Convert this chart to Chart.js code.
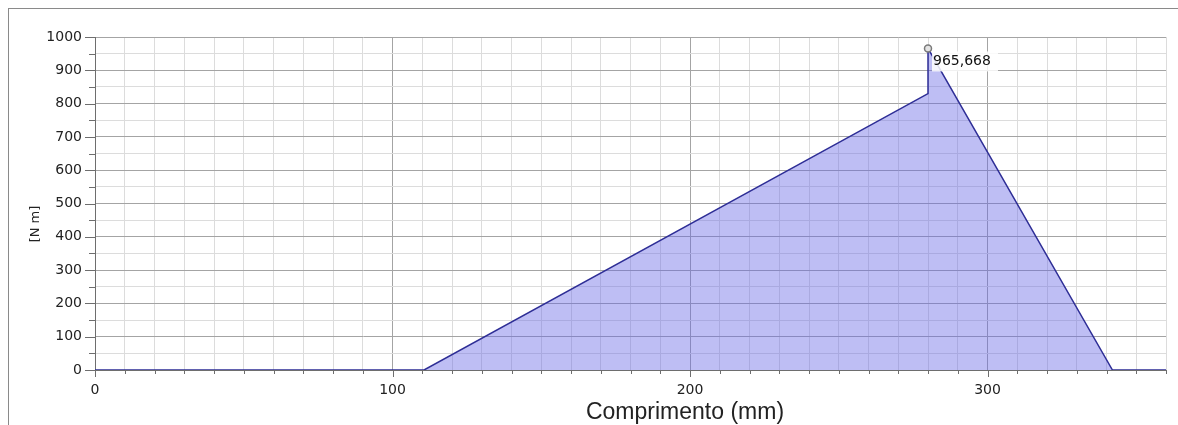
<!DOCTYPE html>
<html>
<head>
<meta charset="utf-8">
<script src="https://cdn.jsdelivr.net/npm/chart.js@4/dist/chart.umd.min.js"></script>
<style>
  body { margin: 0; background: #fff; }
  #wrap { position: relative; width: 1178px; height: 425px; }
  #frame { position: absolute; left: 8px; top: 8px; right: 0; bottom: 0;
           border-top: 1px solid #8a8a8a; border-left: 1px solid #8a8a8a; }
  canvas { position: absolute; left: 0; top: 0; }
</style>
</head>
<body>
<div id="wrap">
  <div id="frame"></div>
  <canvas id="chart" width="1178" height="425"></canvas>
</div>
<script>
// dados do diagrama de momento
const posicoes = [0, 110.6, 280, 280, 342, 360];
const momentos = [0, 0, 830, 965.668, 0, 0];
const indicePico = 3;

const xMax = 360;
const yMax = 1000;
const xTituloTexto = "Comprimento (mm)";
const yTituloTexto = "[N m]";

const fonteTicks = "14px 'DejaVu Sans'";

// ticks com tamanhos diferentes (maior a cada 100)
const ticksPlugin = {
  id: "ticksPlugin",
  afterDraw(chart) {
    const ctx = chart.ctx;
    const xs = chart.scales.x;
    const ys = chart.scales.y;
    ctx.save();
    ctx.strokeStyle = "#6e6e6e";
    ctx.lineWidth = 1;
    ctx.beginPath();
    xs.ticks.forEach((t) => {
      const px = Math.round(xs.getPixelForValue(t.value)) + 0.5;
      const len = t.value % 100 === 0 ? 7 : 4;
      ctx.moveTo(px, xs.top);
      ctx.lineTo(px, xs.top + len);
    });
    ys.ticks.forEach((t) => {
      const py = Math.round(ys.getPixelForValue(t.value)) + 0.5;
      const len = t.value % 100 === 0 ? 10 : 6;
      ctx.moveTo(ys.right, py);
      ctx.lineTo(ys.right - len, py);
    });
    ctx.stroke();

    // titulos dos eixos
    ctx.fillStyle = "#222";
    ctx.font = "23px 'Liberation Sans'";
    ctx.textAlign = "center";
    ctx.textBaseline = "alphabetic";
    ctx.fillText(xTituloTexto, 685, 419);

    ctx.font = "13px 'DejaVu Sans'";
    ctx.translate(36, 224);
    ctx.rotate(-Math.PI / 2);
    ctx.textBaseline = "middle";
    ctx.fillText(yTituloTexto, 0, 0);
    ctx.restore();
  },
  afterDatasetsDraw(chart) {
    // rótulo do valor máximo
    const ctx = chart.ctx;
    const pt = chart.getDatasetMeta(0).data[indicePico];
    const texto = momentos[indicePico].toFixed(3).replace(".", ",");
    ctx.save();
    ctx.fillStyle = "rgba(255,255,255,0.85)";
    ctx.fillRect(pt.x + 4, pt.y + 3, 66, 20);
    ctx.fillStyle = "#111";
    ctx.font = fonteTicks;
    ctx.textAlign = "left";
    ctx.textBaseline = "alphabetic";
    ctx.fillText(texto, pt.x + 5, pt.y + 17);
    ctx.restore();
  },
};

const ctx = document.getElementById("chart").getContext("2d");

new Chart(ctx, {
  type: "line",
  data: {
    datasets: [
      {
        data: posicoes.map((x, i) => ({ x: x, y: momentos[i] })),
        borderColor: "#2e2e96",
        borderWidth: 1.5,
        backgroundColor: "rgba(100,100,228,0.42)",
        fill: "origin",
        tension: 0,
        pointRadius: posicoes.map((_, i) => (i === indicePico ? 3.5 : 0)),
        pointBackgroundColor: "#e4e4e4",
        pointBorderColor: "#7a7a7a",
        pointBorderWidth: 1.5,
      },
    ],
  },
  options: {
    responsive: false,
    animation: false,
    events: [],
    layout: { padding: { top: 37, right: 10, left: 0, bottom: 0 } },
    plugins: {
      legend: { display: false },
      tooltip: { enabled: false },
    },
    scales: {
      x: {
        type: "linear",
        min: 0,
        max: xMax,
        afterFit: (s) => { s.height = 55; },
        border: { color: "#6e6e6e" },
        grid: {
          drawTicks: false,
          color: (c) => (c.tick && c.tick.value % 100 === 0 ? "#a4a4a4" : "#dcdcdc"),
        },
        ticks: {
          stepSize: 10,
          autoSkip: false,
          maxRotation: 0,
          padding: 12,
          color: "#222",
          font: { family: "DejaVu Sans", size: 14 },
          callback: (v) => (v % 100 === 0 ? v : ""),
        },
      },
      y: {
        min: 0,
        max: yMax,
        afterFit: (s) => { s.width = 95; },
        border: { color: "#6e6e6e" },
        grid: {
          drawTicks: false,
          color: (c) => (c.tick && c.tick.value % 100 === 0 ? "#a4a4a4" : "#dcdcdc"),
        },
        ticks: {
          stepSize: 50,
          autoSkip: false,
          padding: 13,
          color: "#222",
          font: { family: "DejaVu Sans", size: 14 },
          callback: (v) => (v % 100 === 0 ? v : ""),
        },
      },
    },
  },
  plugins: [ticksPlugin],
});
</script>
</body>
</html>
